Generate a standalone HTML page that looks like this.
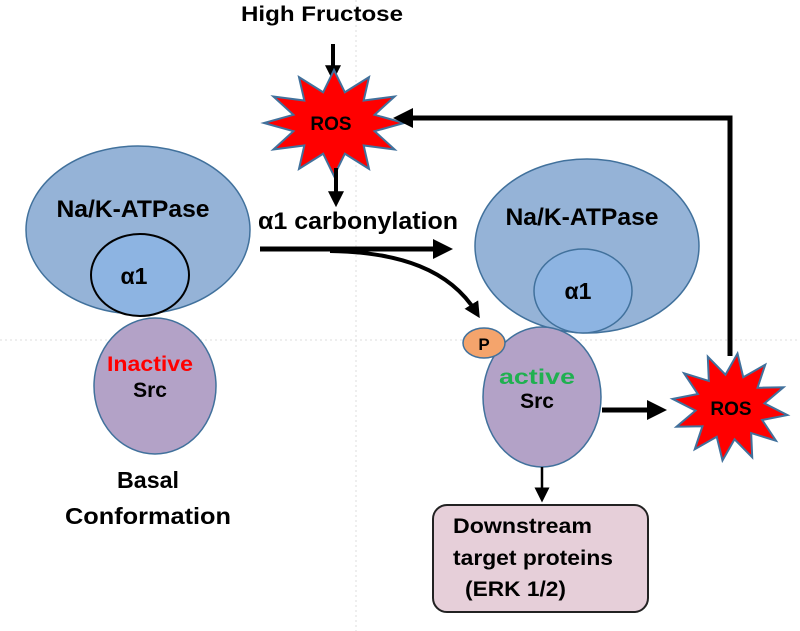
<!DOCTYPE html>
<html><head><meta charset="utf-8"><style>
html,body{margin:0;padding:0;background:#fff;}
svg{display:block;}
text{font-family:"Liberation Sans",sans-serif;font-weight:bold;}
</style></head><body>
<svg width="800" height="631" viewBox="0 0 800 631" xmlns="http://www.w3.org/2000/svg">
<defs>
<marker id="ah" markerWidth="4" markerHeight="4" refX="2.2" refY="2" orient="auto" markerUnits="strokeWidth"><path d="M0,0 L4,2 L0,4 z" fill="#000"/></marker>
<marker id="ah2" markerWidth="6" markerHeight="6" refX="3" refY="3" orient="auto" markerUnits="strokeWidth"><path d="M0,0 L6,3 L0,6 z" fill="#000"/></marker>
</defs>
<line x1="356" y1="0" x2="356" y2="631" stroke="#ddd" stroke-dasharray="2,3"/>
<line x1="0" y1="340" x2="800" y2="340" stroke="#ddd" stroke-dasharray="2,3"/>

<text x="322" y="21" font-size="21" text-anchor="middle" textLength="162" lengthAdjust="spacingAndGlyphs">High Fructose</text>
<line x1="333" y1="44" x2="333" y2="74" stroke="#000" stroke-width="4" marker-end="url(#ah)"/>

<polygon points="1,0 .58,.155 .866,.5 .424,.424 .5,.866 .155,.58 0,1 -.155,.58 -.5,.866 -.424,.424 -.866,.5 -.58,.155 -1,0 -.58,-.155 -.866,-.5 -.424,-.424 -.5,-.866 -.155,-.58 0,-1 .155,-.58 .5,-.866 .424,-.424 .866,-.5 .58,-.155" transform="translate(334,123) scale(70,53)" fill="#ff0000" stroke="#41719c" stroke-width="2" vector-effect="non-scaling-stroke"/>
<text x="331" y="130" font-size="19" text-anchor="middle">ROS</text>
<line x1="336" y1="168" x2="336" y2="200" stroke="#000" stroke-width="4" marker-end="url(#ah)"/>

<!-- left complex -->
<ellipse cx="138" cy="230" rx="112" ry="84" fill="#95b3d7" stroke="#41719c" stroke-width="1.5"/>
<text x="133" y="217" font-size="24" text-anchor="middle" textLength="153" lengthAdjust="spacingAndGlyphs">Na/K-ATPase</text>
<ellipse cx="140" cy="275" rx="49" ry="41" fill="#8db4e2" stroke="#000" stroke-width="2"/>
<text x="134" y="284" font-size="23" text-anchor="middle">α1</text>
<ellipse cx="155" cy="386" rx="61" ry="68" fill="#b3a2c7" stroke="#41719c" stroke-width="1.5"/>
<text x="150" y="371" font-size="21" text-anchor="middle" fill="#ff0000" textLength="86" lengthAdjust="spacingAndGlyphs">Inactive</text>
<text x="150" y="397" font-size="21" text-anchor="middle">Src</text>
<text x="148" y="488" font-size="23" text-anchor="middle" textLength="62" lengthAdjust="spacingAndGlyphs">Basal</text>
<text x="148" y="524" font-size="23" text-anchor="middle" textLength="166" lengthAdjust="spacingAndGlyphs">Conformation</text>

<text x="358" y="229" font-size="24" text-anchor="middle" textLength="200" lengthAdjust="spacingAndGlyphs">α1 carbonylation</text>
<line x1="260" y1="249" x2="444" y2="249" stroke="#000" stroke-width="5" marker-end="url(#ah)"/>
<path d="M330,251 C400,252 450,270 476,312" fill="none" stroke="#000" stroke-width="4" marker-end="url(#ah)"/>

<!-- right complex -->
<ellipse cx="587" cy="246" rx="112" ry="87" fill="#95b3d7" stroke="#41719c" stroke-width="1.5"/>
<text x="582" y="225" font-size="24" text-anchor="middle" textLength="153" lengthAdjust="spacingAndGlyphs">Na/K-ATPase</text>
<ellipse cx="583" cy="291" rx="49" ry="42" fill="#8db4e2" stroke="#41719c" stroke-width="1.5"/>
<text x="578" y="299" font-size="23" text-anchor="middle">α1</text>
<ellipse cx="542" cy="397" rx="59" ry="70" fill="#b3a2c7" stroke="#41719c" stroke-width="1.5"/>
<ellipse cx="484" cy="343" rx="21" ry="15" fill="#f4a46c" stroke="#41719c" stroke-width="1.5"/>
<text x="484" y="350" font-size="17" text-anchor="middle">P</text>
<text x="537" y="384" font-size="21" text-anchor="middle" fill="#1fb050" textLength="76" lengthAdjust="spacingAndGlyphs">active</text>
<text x="537" y="408" font-size="21" text-anchor="middle">Src</text>
<line x1="602" y1="410" x2="658" y2="410" stroke="#000" stroke-width="5" marker-end="url(#ah)"/>

<polygon points="1,0 .58,.155 .866,.5 .424,.424 .5,.866 .155,.58 0,1 -.155,.58 -.5,.866 -.424,.424 -.866,.5 -.58,.155 -1,0 -.58,-.155 -.866,-.5 -.424,-.424 -.5,-.866 -.155,-.58 0,-1 .155,-.58 .5,-.866 .424,-.424 .866,-.5 .58,-.155" transform="translate(730,407) rotate(8) scale(58,54)" fill="#ff0000" stroke="#41719c" stroke-width="2" vector-effect="non-scaling-stroke"/>
<text x="731" y="415" font-size="19" text-anchor="middle">ROS</text>
<polyline points="730,356 730,118 402,118" fill="none" stroke="#000" stroke-width="5" marker-end="url(#ah)"/>

<line x1="542" y1="467" x2="542" y2="495" stroke="#000" stroke-width="2.5" marker-end="url(#ah2)"/>
<rect x="433" y="505" width="215" height="107" rx="14" fill="#e6cfd9" stroke="#222" stroke-width="2"/>
<text x="453" y="533" font-size="21" textLength="139" lengthAdjust="spacingAndGlyphs">Downstream</text>
<text x="453" y="565" font-size="21" textLength="160" lengthAdjust="spacingAndGlyphs">target proteins</text>
<text x="465" y="596" font-size="21" textLength="101" lengthAdjust="spacingAndGlyphs">(ERK 1/2)</text>
</svg>
</body></html>
